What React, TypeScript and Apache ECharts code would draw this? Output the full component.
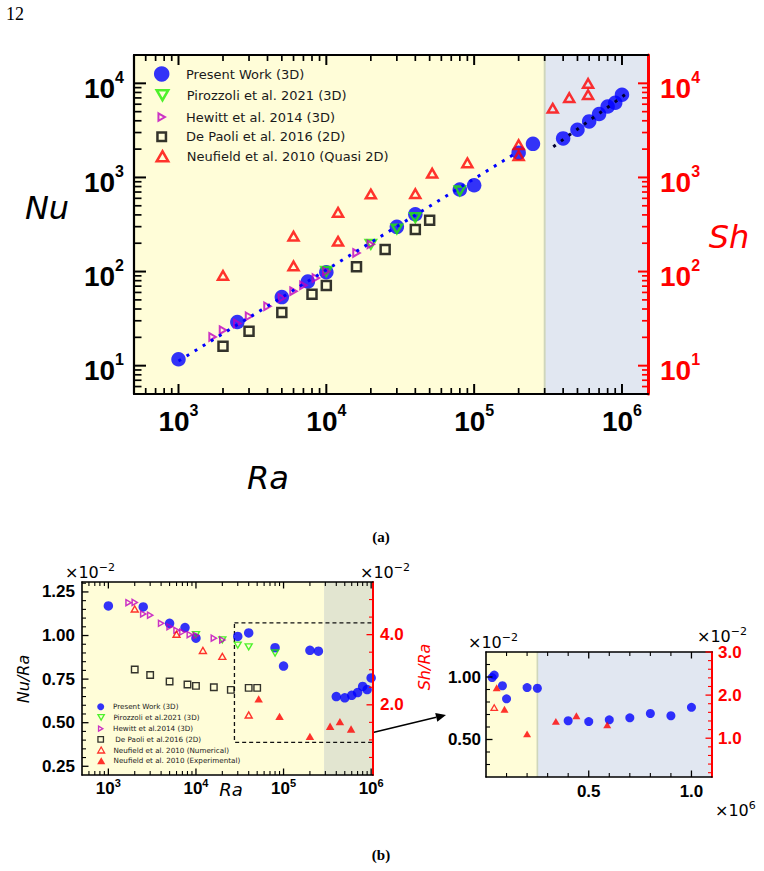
import React, { useEffect, useRef } from 'react';
import * as echarts from 'echarts';

// ---------- Present work (3D) ----------
const presentRa = [1e3, 2.5e3, 5e3, 7.5e3, 1e4, 3e4, 4e4, 8e4, 1e5, 2e5, 2.5e5, 4e5, 5e5, 6e5, 7e5, 8e5, 9e5, 1e6];
const presentNu = [11.7, 29.1, 53.5, 78.4, 98.5, 298.5, 406, 744, 825, 1830, 2275, 2600, 3215, 3942, 4711, 5664, 6210, 7570];

// ---------- Pirozzoli et al. 2021 (3D) ----------
const pirozzoliRa = [1e4, 2e4, 3e4, 4e4, 8e4];
const pirozzoliNu = [100.5, 195, 283.5, 374, 720];

// ---------- Hewitt et al. 2014 (3D) ----------
const hewittRa = [1700, 2000, 2500, 3000, 4000, 5000, 6000, 7000, 8500, 1e4, 1.6e4, 2e4];
const hewittNu = [20.2, 23.8, 28.1, 33.5, 42.8, 52.5, 61.8, 71.4, 85.4, 100, 157.6, 195];

// ---------- De Paoli et al. 2016 (2D) ----------
const dePaoliRa = [2000, 3000, 5000, 8000, 1e4, 1.6e4, 2.5e4, 4e4, 5e4];
const dePaoliNu = [16.1, 23.2, 36.8, 57.5, 71.1, 112.5, 172, 280, 350];

// ---------- Neufield et al. 2010 (quasi 2D), Sh ----------
const neufieldRa = [2000, 6000, 6000, 12000, 12000, 20000, 40000, 52000, 90000, 2e5, 2e5, 3.4e5, 4.4e5, 5.9e5, 5.9e5];
const neufieldSh = [91, 238, 115, 426, 210, 667, 673, 1110, 1430, 2230, 1705, 5440, 7050, 10000, 7580];

// Neufield et al. 2010, Sh/Ra (x10^-2)
const neufieldNumRa = [2000, 6000, 12000, 20000, 40000];
const neufieldNumShRa = [4.73, 4.01, 3.55, 3.38, 1.71];
const neufieldExpRa = [52000, 90000, 2e5, 3.4e5, 4.4e5, 5.9e5];
const neufieldExpShRa = [2.17, 1.67, 1.1, 1.39, 1.52, 1.31];

// power-law fit segments (end points)
const fitLowRa = [1000, 1.9e5];
const fitLowNu = [11.2, 1800];
const fitHighRa = [3.43e5, 1.1e6];
const fitHighNu = [2120, 8000];

// tick labels
const raDecades = [1e3, 1e4, 1e5, 1e6];
const nuDecades = [10, 100, 1e3, 1e4];
const ratioTicks = [0.25, 0.5, 0.75, 1.0, 1.25];
const shRatioTicks = [2.0, 4.0];
const zoomRaTicks = [0.5, 1.0];
const zoomRatioTicks = [0.5, 1.0];
const zoomShTicks = [1.0, 2.0, 3.0];

// axis extents and regime limits
const topRaRange = [500, 1.5e6];
const topNuRange = [5, 2e4];
const lowRaRange = [500, 1.05e6];
const ratioRange = [0.2, 1.307];
const shRatioRange = [0, 5.5];
const zoomRaRange = [0, 1.1];
const zoomRatioRange = [0.2, 1.2];
const zoomShRange = [0.1, 3.0];
const regimeRaTop = 3e5;
const regimeRaLow = 2.9e5;
const regimeRaZoom = 0.25;
const zoomFromRa = 2e4;
const boxRa = [27500, 1.05e6];
const boxRatio = [0.387, 1.073];

// plot rectangles [left, top, width, height]
const GRID_A = [134, 55, 514, 339];
const GRID_B = [82, 582, 291, 193];
const GRID_C = [486, 652, 226, 125];

const SANS = '"Liberation Sans", Arial, sans-serif';
const DEJAVU = '"DejaVu Sans", sans-serif';
const SERIF = '"Liberation Serif", "Times New Roman", serif';

const BLUE = '#0000ff';
const GREEN = '#22ee00';
const MAGENTA = '#bf00bf';
const RED = '#ff0000';
const YELLOW_BG = '#fffdd8';
const BLUE_BG = '#e1e7f1';
const OLIVE_BG = '#e2e5d0';
const EDGE = '#cfd6bb';
const NONE = 'rgba(0,0,0,0)';

const TRI_UP = 'path://M5,0 L10,8.66 L0,8.66 Z';
const TRI_DOWN = 'path://M0,0 L10,0 L5,8.66 Z';
const TRI_RIGHT = 'path://M0,0 L8.66,5 L0,10 Z';
const SQUARE = 'path://M0,0 L10,0 L10,10 L0,10 Z';

const pts = (xs: number[], ys: number[]) => xs.map((x, i) => [x, ys[i]]);
const ratio = (ra: number[], nu: number[]) => ra.map((r, i) => [r, (nu[i] / r) * 100]);

function logMinor(lo: number, hi: number) {
  const out: number[] = [];
  for (let e = 0; e <= 6; e++) {
    for (let m = 2; m <= 9; m++) {
      const v = m * Math.pow(10, e);
      if (v > lo && v < hi) out.push(v);
    }
  }
  return out;
}

function linMinor(lo: number, hi: number, step: number, majors: number[]) {
  const out: number[] = [];
  const n0 = Math.ceil(lo / step - 1e-6);
  const n1 = Math.floor(hi / step + 1e-6);
  for (let n = n0; n <= n1; n++) {
    const v = +(n * step).toFixed(6);
    if (v <= lo + 1e-9 || v >= hi - 1e-9) continue;
    if (majors.some((m) => Math.abs(m - v) < 1e-9)) continue;
    out.push(v);
  }
  return out;
}

function powRich(big: number, small: number, pad: number, color: string) {
  return {
    b: { fontSize: big, fontWeight: 'bold', fontFamily: SANS, color, lineHeight: big, padding: [pad, 0, 0, 0] },
    s: { fontSize: small, fontWeight: 'bold', fontFamily: SANS, color, lineHeight: small, verticalAlign: 'top' },
  };
}
const powFmt = (v: number) => `{b|10}{s|${Math.round(Math.log10(v))}}`;

// an axis that carries the spine and (optionally) the tick labels
function ax(s: {
  grid: number;
  pos: string;
  log: boolean;
  range: number[];
  color: string;
  line: number;
  labels?: number[];
  fmt?: (v: number) => string;
  rich?: any;
  font?: any;
  margin?: number;
}) {
  const a: any = {
    gridIndex: s.grid,
    position: s.pos,
    type: s.log ? 'log' : 'value',
    min: s.range[0],
    max: s.range[1],
    z: 10,
    axisLine: { show: true, onZero: false, lineStyle: { color: s.color, width: s.line } },
    axisTick: { show: false },
    axisLabel: { show: false },
    splitLine: { show: false },
  };
  if (s.log) a.logBase = 10;
  if (s.labels) {
    a.axisLabel = {
      show: true,
      customValues: s.labels,
      formatter: s.fmt,
      margin: s.margin,
      color: s.color,
      rich: s.rich,
      ...(s.font || {}),
    };
  }
  return a;
}

// inward major/minor tick marks on one side of a grid, placed through the axis scales
function tickSeries(
  xi: number,
  yi: number,
  side: 'bottom' | 'top' | 'left' | 'right',
  majors: number[],
  minors: number[],
  lens: number[],
  widths: number[],
  color: string,
  xRef: number,
  yRef: number,
) {
  const isX = side === 'bottom' || side === 'top';
  const item = (v: number, k: number) => (isX ? [v, yRef, k] : [xRef, v, k]);
  const data = [...majors.map((v) => item(v, 1)), ...minors.map((v) => item(v, 2))];
  return {
    type: 'custom',
    xAxisIndex: xi,
    yAxisIndex: yi,
    silent: true,
    clip: false,
    z: 11,
    data,
    renderItem: (params: any, api: any) => {
      const cs = params.coordSys;
      const major = api.value(2) === 1;
      const len = major ? lens[0] : lens[1];
      const p = api.coord([api.value(0), api.value(1)]);
      let shape;
      if (side === 'bottom') {
        const y0 = cs.y + cs.height;
        shape = { x1: p[0], y1: y0, x2: p[0], y2: y0 - len };
      } else if (side === 'top') {
        shape = { x1: p[0], y1: cs.y, x2: p[0], y2: cs.y + len };
      } else if (side === 'left') {
        shape = { x1: cs.x, y1: p[1], x2: cs.x + len, y2: p[1] };
      } else {
        const x0 = cs.x + cs.width;
        shape = { x1: x0, y1: p[1], x2: x0 - len, y2: p[1] };
      }
      return { type: 'line', shape, style: { stroke: color, lineWidth: major ? widths[0] : widths[1] } };
    },
  };
}

// single-entry legend box: icon centred on cx, text starting at textX, row centred on cy
function legendRow(name: string, icon: string, itemStyle: any, cy: number, size: number, cx: number, textX: number, fontSize: number, iconW: number = size) {
  const w = 2 * (textX - 5 - cx);
  const lw = itemStyle.borderWidth || 0;
  return {
    data: [{ name, icon, itemStyle }],
    orient: 'vertical',
    left: cx - iconW / 2 - lw / 2,
    top: cy - size / 2 - lw / 2,
    padding: 0,
    itemWidth: w,
    itemHeight: size,
    selectedMode: false,
    textStyle: { fontSize, fontFamily: DEJAVU, color: '#1a1a1a', lineHeight: size },
  };
}

const hollow = (c: string, w: number) => ({ color: NONE, borderColor: c, borderWidth: w });

function offsetText(x: number, y: number, sup: string, color: string) {
  return {
    type: 'text',
    x,
    y,
    style: {
      text: `{n|×10}{s|${sup}}`,
      verticalAlign: 'middle',
      align: 'left',
      rich: {
        n: { fontSize: 16, fontFamily: DEJAVU, color, lineHeight: 16, padding: [4, 0, 0, 0] },
        s: { fontSize: 11, fontFamily: DEJAVU, color, lineHeight: 11, verticalAlign: 'top' },
      },
    },
  };
}

function label(x: number, y: number, text: string, o: any) {
  return {
    type: 'text',
    x,
    y,
    rotation: o.rotation || 0,
    style: {
      text,
      align: 'center',
      verticalAlign: 'middle',
      fill: o.color || '#000',
      fontSize: o.size,
      fontFamily: o.family || DEJAVU,
      fontStyle: o.italic ? 'italic' : 'normal',
      fontWeight: o.bold ? 'bold' : 'normal',
    },
  };
}

function buildGraphic() {
  // arrow from the dashed box to the close-up
  const a0 = [346, 739];
  const a1 = [446, 715];
  const dx = a1[0] - a0[0];
  const dy = a1[1] - a0[1];
  const dl = Math.hypot(dx, dy);
  const ux = dx / dl;
  const uy = dy / dl;
  const hb = [a1[0] - 10 * ux, a1[1] - 10 * uy];

  return [
    label(15, 14, '12', { size: 18, family: SERIF }),
    label(47, 208, 'Nu', { size: 32, italic: true }),
    label(729, 237, 'Sh', { size: 32, italic: true, color: RED }),
    label(268, 478, 'Ra', { size: 32, italic: true }),
    label(381, 537, '(a)', { size: 15, bold: true, family: SERIF }),
    label(381, 855, '(b)', { size: 15, bold: true, family: SERIF }),

    offsetText(65, 570, '−2', '#000'),
    offsetText(360, 570, '−2', RED),
    label(23, 679, 'Nu/Ra', { size: 16, italic: true, rotation: Math.PI / 2 }),
    label(424, 667, 'Sh/Ra', { size: 16, italic: true, color: RED, rotation: Math.PI / 2 }),
    label(231, 789, 'Ra', { size: 18, italic: true }),

    offsetText(468, 640, '−2', '#000'),
    offsetText(697, 634, '−2', RED),
    offsetText(715, 808, '6', '#000'),

    {
      type: 'line',
      shape: { x1: a0[0], y1: a0[1], x2: hb[0], y2: hb[1] },
      style: { stroke: '#000', lineWidth: 1.5 },
    },
    {
      type: 'polygon',
      shape: {
        points: [
          [a1[0], a1[1]],
          [hb[0] - 4.5 * uy, hb[1] + 4.5 * ux],
          [hb[0] + 4.5 * uy, hb[1] - 4.5 * ux],
        ],
      },
      style: { fill: '#000' },
    },
  ];
}

function buildOption() {
  const fmt2 = (v: number) => v.toFixed(2);
  const fmt1 = (v: number) => v.toFixed(1);
  const tickFont = { fontSize: 17, fontWeight: 'bold', fontFamily: SANS };

  // x axes: [a-bottom, a-top, b-bottom, b-top, c-bottom, c-top]
  const xAxis = [
    ax({ grid: 0, pos: 'bottom', log: true, range: topRaRange, color: '#000', line: 2.2, labels: raDecades, fmt: powFmt, rich: powRich(28, 16, 10, '#000'), margin: 8 }),
    ax({ grid: 0, pos: 'top', log: true, range: topRaRange, color: '#000', line: 2.2 }),
    ax({ grid: 1, pos: 'bottom', log: true, range: lowRaRange, color: '#000', line: 1.6, labels: raDecades, fmt: powFmt, rich: powRich(17, 11, 5, '#000'), margin: 2 }),
    ax({ grid: 1, pos: 'top', log: true, range: lowRaRange, color: '#000', line: 1.6 }),
    ax({ grid: 2, pos: 'bottom', log: false, range: zoomRaRange, color: '#000', line: 1.6, labels: zoomRaTicks, fmt: fmt1, font: tickFont, margin: 6 }),
    ax({ grid: 2, pos: 'top', log: false, range: zoomRaRange, color: '#000', line: 1.6 }),
  ];
  // y axes: [a-left, a-right, b-left, b-right, c-left, c-right]
  const yAxis = [
    ax({ grid: 0, pos: 'left', log: true, range: topNuRange, color: '#000', line: 2.2, labels: nuDecades, fmt: powFmt, rich: powRich(28, 16, 10, '#000'), margin: 10 }),
    ax({ grid: 0, pos: 'right', log: true, range: topNuRange, color: RED, line: 3, labels: nuDecades, fmt: powFmt, rich: powRich(28, 16, 10, RED), margin: 12 }),
    ax({ grid: 1, pos: 'left', log: false, range: ratioRange, color: '#000', line: 1.6, labels: ratioTicks, fmt: fmt2, font: tickFont, margin: 7 }),
    ax({ grid: 1, pos: 'right', log: false, range: shRatioRange, color: RED, line: 2, labels: shRatioTicks, fmt: fmt1, font: tickFont, margin: 7 }),
    ax({ grid: 2, pos: 'left', log: false, range: zoomRatioRange, color: '#000', line: 1.6, labels: zoomRatioTicks, fmt: fmt2, font: tickFont, margin: 5 }),
    ax({ grid: 2, pos: 'right', log: false, range: zoomShRange, color: RED, line: 2, labels: zoomShTicks, fmt: fmt1, font: tickFont, margin: 6 }),
  ];

  const topRaMinor = logMinor(topRaRange[0], topRaRange[1]);
  const topNuMinor = logMinor(topNuRange[0], topNuRange[1]);
  const lowRaMinor = logMinor(lowRaRange[0], lowRaRange[1]);
  const ratioMinor = linMinor(ratioRange[0], ratioRange[1], 0.05, ratioTicks);
  const shMinor = linMinor(shRatioRange[0], shRatioRange[1], 0.5, shRatioTicks);
  const zRaMinor = linMinor(zoomRaRange[0], zoomRaRange[1], 0.1, zoomRaTicks);
  const zRatioMinor = linMinor(zoomRatioRange[0], zoomRatioRange[1], 0.1, zoomRatioTicks);
  const zShMinor = linMinor(zoomShRange[0], zoomShRange[1], 0.2, zoomShTicks);
  const LA = [10, 6];
  const WA = [2, 1.7];
  const LB = [6.5, 4];
  const WB = [1.3, 1.1];

  const ticks = [
    tickSeries(0, 0, 'bottom', raDecades, topRaMinor, LA, WA, '#000', 1000, 10),
    tickSeries(0, 0, 'top', raDecades, topRaMinor, LA, WA, '#000', 1000, 10),
    tickSeries(0, 0, 'left', nuDecades, topNuMinor, [12, 7.5], WA, '#000', 1000, 10),
    tickSeries(0, 1, 'right', nuDecades, topNuMinor, LA, WA, RED, 1000, 10),

    tickSeries(2, 2, 'bottom', raDecades, lowRaMinor, LB, WB, '#000', 1000, 0.5),
    tickSeries(2, 2, 'top', raDecades, lowRaMinor, LB, WB, '#000', 1000, 0.5),
    tickSeries(2, 2, 'left', ratioTicks, ratioMinor, LB, WB, '#000', 1000, 0.5),
    tickSeries(2, 3, 'right', shRatioTicks, shMinor, LB, WB, RED, 1000, 2),

    tickSeries(4, 4, 'bottom', zoomRaTicks, zRaMinor, LB, WB, '#000', 0.5, 0.5),
    tickSeries(4, 4, 'top', zoomRaTicks, zRaMinor, LB, WB, '#000', 0.5, 0.5),
    tickSeries(4, 4, 'left', zoomRatioTicks, zRatioMinor, LB, WB, '#000', 0.5, 0.5),
    tickSeries(4, 5, 'right', zoomShTicks, zShMinor, LB, WB, RED, 0.5, 2),
  ];

  const scatter = (name: string, xi: number, yi: number, data: any[], symbol: string, size: number, itemStyle: any, extra: any = {}) => ({
    type: 'scatter',
    name,
    xAxisIndex: xi,
    yAxisIndex: yi,
    data,
    symbol,
    symbolSize: size,
    symbolKeepAspect: true,
    itemStyle,
    z: 3,
    silent: true,
    ...extra,
  });

  const fitLine = (data: any[], color: string) => ({
    type: 'line',
    xAxisIndex: 0,
    yAxisIndex: 0,
    data,
    symbol: 'none',
    silent: true,
    z: 5,
    lineStyle: { color, width: 3, type: [3, 6.5], cap: 'butt' },
  });

  const zoomPresent = presentRa
    .map((r, i) => [r, presentNu[i]])
    .filter((p) => p[0] >= zoomFromRa)
    .map((p) => [p[0] / 1e6, (p[1] / p[0]) * 100]);

  const series: any[] = [
    // ---- (a) Nu, Sh vs Ra ----
    scatter('Present Work (3D)', 0, 0, pts(presentRa, presentNu), 'circle', 14.5, { color: BLUE }, {
      markArea: {
        silent: true,
        label: { show: false },
        data: [
          [{ xAxis: topRaRange[0], itemStyle: { color: YELLOW_BG } }, { xAxis: regimeRaTop }],
          [{ xAxis: regimeRaTop, itemStyle: { color: BLUE_BG } }, { xAxis: topRaRange[1] }],
          [{ xAxis: regimeRaTop * 0.985, itemStyle: { color: EDGE } }, { xAxis: regimeRaTop * 1.015 }],
        ],
      },
    }),
    scatter('Pirozzoli et al. 2021 (3D)', 0, 0, pts(pirozzoliRa, pirozzoliNu), TRI_DOWN, 10, hollow(GREEN, 2.5)),
    scatter('Hewitt et al. 2014 (3D)', 0, 0, pts(hewittRa, hewittNu), TRI_RIGHT, 7.5, hollow(MAGENTA, 2)),
    scatter('De Paoli et al. 2016 (2D)', 0, 0, pts(dePaoliRa, dePaoliNu), SQUARE, 9, hollow('#000', 2.5)),
    scatter('Neufield et al. 2010 (Quasi 2D)', 0, 1, pts(neufieldRa, neufieldSh), TRI_UP, 10, hollow(RED, 2.5)),
    fitLine(pts(fitLowRa, fitLowNu), BLUE),
    fitLine(pts(fitHighRa, fitHighNu), '#000033'),

    // ---- (b) Nu/Ra, Sh/Ra vs Ra ----
    scatter('Present Work (3D)', 2, 2, ratio(presentRa, presentNu), 'circle', 9.5, { color: BLUE }, {
      markArea: {
        silent: true,
        label: { show: false },
        data: [
          [{ xAxis: lowRaRange[0], itemStyle: { color: YELLOW_BG } }, { xAxis: regimeRaLow }],
          [{ xAxis: regimeRaLow, itemStyle: { color: OLIVE_BG } }, { xAxis: lowRaRange[1] }],
        ],
      },
    }),
    scatter('Pirozzoli et al.2021 (3D)', 2, 2, ratio(pirozzoliRa, pirozzoliNu), TRI_DOWN, 7, hollow(GREEN, 1.4)),
    scatter('Hewitt et al.2014 (3D)', 2, 2, ratio(hewittRa, hewittNu), TRI_RIGHT, 6, hollow(MAGENTA, 1.5)),
    scatter(' De Paoli et al.2016 (2D)', 2, 2, ratio(dePaoliRa, dePaoliNu), SQUARE, 6.5, hollow('#000', 1.4), {
      markArea: {
        silent: true,
        label: { show: false },
        data: [
          [
            { coord: [boxRa[0], boxRatio[1]], itemStyle: { color: NONE, borderColor: '#111', borderWidth: 1.3, borderType: [4, 3] } },
            { coord: [boxRa[1], boxRatio[0]] },
          ],
        ],
      },
    }),
    scatter('Neufield et al. 2010 (Numerical)', 2, 3, pts(neufieldNumRa, neufieldNumShRa), TRI_UP, 7, hollow(RED, 1.4)),
    scatter('Neufield et al. 2010 (Experimental)', 2, 3, pts(neufieldExpRa, neufieldExpShRa), TRI_UP, 8.5, { color: RED }),

    // ---- (b) linear close-up ----
    scatter('Present Work (3D)', 4, 4, zoomPresent, 'circle', 9, { color: BLUE }, {
      markArea: {
        silent: true,
        label: { show: false },
        data: [
          [{ xAxis: zoomRaRange[0], itemStyle: { color: YELLOW_BG } }, { xAxis: regimeRaZoom }],
          [{ xAxis: regimeRaZoom, itemStyle: { color: BLUE_BG } }, { xAxis: zoomRaRange[1] }],
          [{ xAxis: regimeRaZoom - 0.004, itemStyle: { color: EDGE } }, { xAxis: regimeRaZoom + 0.004 }],
        ],
      },
    }),
    scatter('Neufield et al. 2010 (Numerical)', 4, 5, neufieldNumRa.map((r, i) => [r / 1e6, neufieldNumShRa[i]]), TRI_UP, 6.5, hollow(RED, 1.3)),
    scatter('Neufield et al. 2010 (Experimental)', 4, 5, neufieldExpRa.map((r, i) => [r / 1e6, neufieldExpShRa[i]]), TRI_UP, 8, { color: RED }),

    ...ticks,
  ];

  const topRows = [74, 95, 115.3, 135.7, 156];
  const lowRows = [706.7, 717.3, 728.3, 739.3, 750, 760.7];
  const legend = [
    legendRow('Present Work (3D)', 'circle', { color: BLUE }, topRows[0], 15.5, 161.7, 186, 13),
    legendRow('Pirozzoli et al. 2021 (3D)', TRI_DOWN, hollow(GREEN, 2.5), topRows[1], 10, 161.7, 186, 13),
    legendRow('Hewitt et al. 2014 (3D)', TRI_RIGHT, hollow(MAGENTA, 2), topRows[2], 7.5, 161.7, 186, 13, 7.5 * 0.866),
    legendRow('De Paoli et al. 2016 (2D)', SQUARE, hollow('#000', 2.5), topRows[3], 8.5, 161.7, 186, 13),
    legendRow('Neufield et al. 2010 (Quasi 2D)', TRI_UP, hollow(RED, 2.5), topRows[4], 10, 161.7, 186, 13),

    legendRow('Present Work (3D)', 'circle', { color: BLUE }, lowRows[0], 7, 100.7, 113, 7.2),
    legendRow('Pirozzoli et al.2021 (3D)', TRI_DOWN, hollow(GREEN, 1.3), lowRows[1], 5.5, 100.7, 113, 7.2),
    legendRow('Hewitt et al.2014 (3D)', TRI_RIGHT, hollow(MAGENTA, 1.3), lowRows[2], 5, 100.7, 113, 7.2, 5 * 0.866),
    legendRow(' De Paoli et al.2016 (2D)', SQUARE, hollow('#000', 1.3), lowRows[3], 5.5, 100.7, 113, 7.2),
    legendRow('Neufield et al. 2010 (Numerical)', TRI_UP, hollow(RED, 1.3), lowRows[4], 6, 100.7, 113, 7.2),
    legendRow('Neufield et al. 2010 (Experimental)', TRI_UP, { color: RED }, lowRows[5], 7, 100.7, 113, 7.2),
  ];

  const gridOf = (r: number[]) => ({ left: r[0], top: r[1], width: r[2], height: r[3], containLabel: false, outerBoundsMode: 'none' });

  return {
    animation: false,
    backgroundColor: '#ffffff',
    grid: [gridOf(GRID_A), gridOf(GRID_B), gridOf(GRID_C)],
    xAxis,
    yAxis,
    legend,
    series,
    graphic: buildGraphic(),
  };
}

export default function App() {
  const ref = useRef<HTMLDivElement>(null);
  useEffect(() => {
    if (!ref.current) return;
    const chart = echarts.init(ref.current, undefined, { renderer: 'svg' });
    chart.setOption(buildOption() as any);
    return () => chart.dispose();
  }, []);
  return (
    <div
      ref={ref}
      style={{ position: 'absolute', left: 0, top: 0, width: 764, height: 871, background: '#fff' }}
    />
  );
}
